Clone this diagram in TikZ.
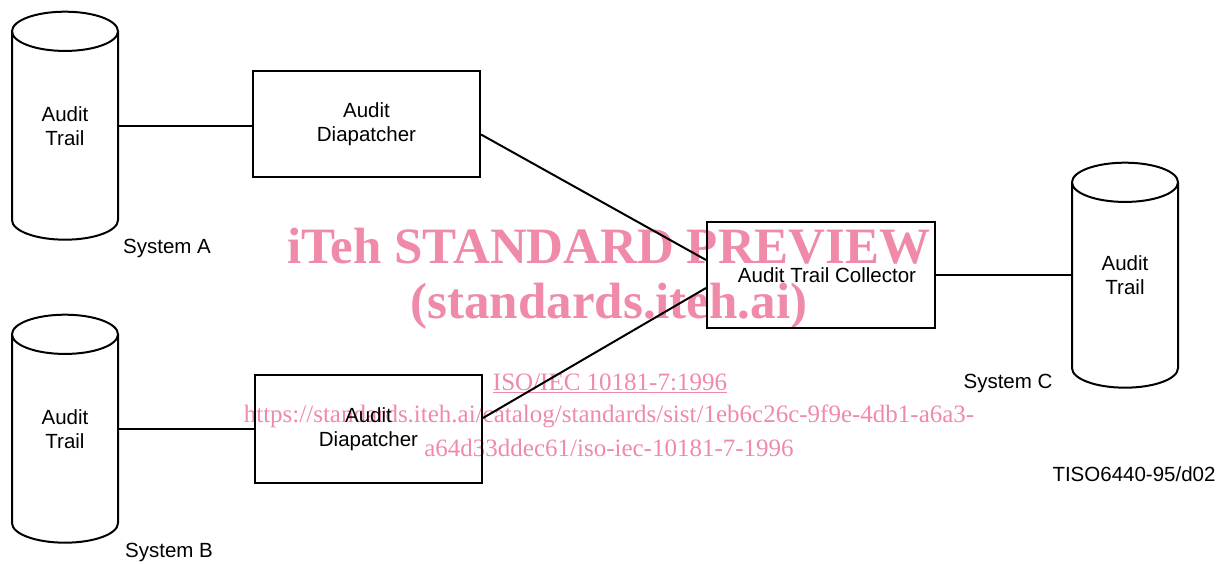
\documentclass[tikz,border=0pt]{standalone}
\usepackage{fontspec}
\setmainfont{Liberation Sans}
\newfontfamily\wmfont{Liberation Serif}
\usetikzlibrary{shapes.geometric}
\definecolor{wmpink}{RGB}{239,138,168}
\tikzset{
  trail/.style={draw,line width=2pt,cylinder,shape border rotate=90,aspect=0.84,
    minimum width=106pt,minimum height=228pt,inner sep=0pt,
    font=\fontsize{20.5}{24}\selectfont},
  unitbox/.style={draw,line width=2pt,rectangle,inner sep=0pt,align=center,
    minimum width=227pt,minimum height=106pt,font=\fontsize{20.5}{24}\selectfont},
  tag/.style={font=\fontsize{20.5}{24}\selectfont,align=center},
  wire/.style={line width=2pt},
  wmbig/.style={text=wmpink,font=\wmfont\bfseries\fontsize{51}{60}\selectfont},
  wmsmall/.style={text=wmpink,font=\wmfont\fontsize{25}{30}\selectfont}
}
\begin{document}
\begin{tikzpicture}[x=1pt,y=-1pt]
      \useasboundingbox (0,0) rectangle (1226,564);
      % preview stamp, sits under the drawing
      \node[wmbig] (wmTop) at (609,246) {iTeh STANDARD PREVIEW};
      \node[wmbig] (wmSite) at (609,306) {(standards.iteh.ai)};
      \node[wmsmall] (wmIso) at (610,383) {\underline{ISO/IEC 10181-7:1996}};
      \node[wmsmall] (wmUrlA) at (609,416) {https://standards.iteh.ai/catalog/standards/sist/1eb6c26c-9f9e-4db1-a6a3-};
      \node[wmsmall] (wmUrlB) at (609,448) {a64d33ddec61/iso-iec-10181-7-1996};

      % stores: the cylinder sits 10pt below its text
      \node[trail] (trailA) at (65,136) {\phantom{Audit}}; % system A store
      \node[tag] (trailAtxt) at (65,126) {Audit\\Trail};
      \node[tag] (sysA) at (167,248) {System A}; % system A label
      \node[trail] (trailB) at (65,439) {\phantom{Audit}}; % system B store
      \node[tag] (trailBtxt) at (65,429) {Audit\\Trail};
      \node[tag] (sysB) at (169,552) {System B}; % system B label
      \node[trail,minimum height=225pt] (trailC) at (1125,285.5) {\phantom{Audit}}; % system C store
      \node[tag] (trailCtxt) at (1125,275.5) {Audit\\Trail};
      \node[tag] (sysC) at (1008,383) {System C}; % system C label

      \node[unitbox] (dispA) at (366.5,124.5) {Audit\\Diapatcher}; % upper dispatcher
      \node[unitbox,minimum height=108pt] (dispB) at (368.5,429) {Audit\\Diapatcher}; % lower dispatcher
      \node[unitbox,minimum width=228pt] (coll) at (821,275) {\hspace*{12pt}Audit Trail Collector}; % collector

      \draw[wire] (trailA.east |- trailAtxt) -- (dispA.west |- trailAtxt); % Wiring
      \draw[wire] (trailB.east |- trailBtxt) -- (dispB.west |- trailBtxt); % Wiring
      \draw[wire] ([yshift=-10pt]dispA.east) -- ([yshift=15pt]coll.west); % Wiring
      \draw[wire] ([yshift=11pt]dispB.east) -- ([yshift=-13pt]coll.west); % Wiring
      \draw[wire] (coll.east) -- (coll.east -| trailC.west); % Wiring

      \node[tag,anchor=east] (figId) at (1219,474) {TISO6440-95/d02}; % figure id
\end{tikzpicture}
\end{document}
